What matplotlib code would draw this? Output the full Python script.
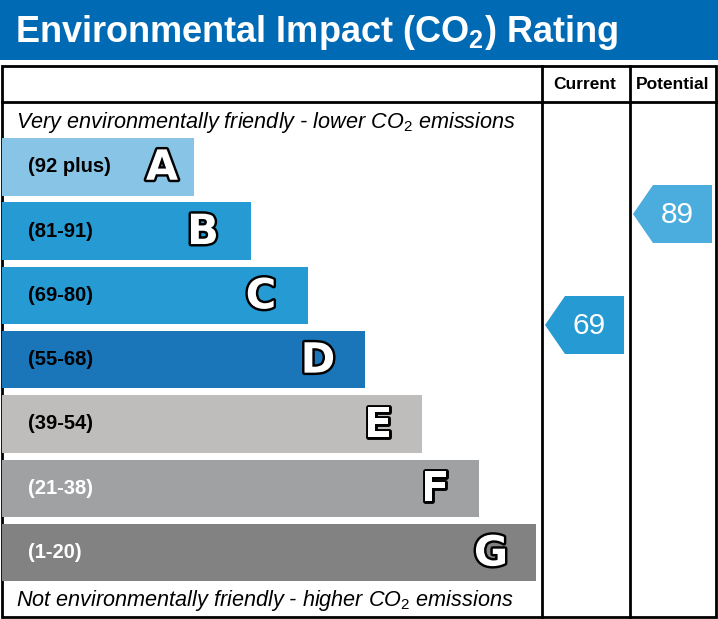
import matplotlib
matplotlib.use("Agg")
import matplotlib.pyplot as plt
from matplotlib.patches import Rectangle, Polygon
import matplotlib.patheffects as pe

plt.rcParams['font.family'] = ['Liberation Sans', 'DejaVu Sans']
plt.rcParams['mathtext.fontset'] = 'custom'
plt.rcParams['mathtext.rm'] = 'Liberation Sans'
plt.rcParams['mathtext.it'] = 'Liberation Sans:italic'
plt.rcParams['mathtext.bf'] = 'Liberation Sans:bold'

# data
bands = ['A', 'B', 'C', 'D', 'E', 'F', 'G']
ranges = ['(92 plus)', '(81-91)', '(69-80)', '(55-68)', '(39-54)', '(21-38)', '(1-20)']
band_colors = ['#87c4e6', '#269ad3', '#269ad3', '#1a75b9', '#bebdbb', '#a0a1a3', '#828282']
label_colors = ['black', 'black', 'black', 'black', 'black', 'white', 'white']
current = 69
potential = 89
current_color = '#269ad3'
potential_color = '#4badde'

W, H = 718, 619
fig = plt.figure(figsize=(W / 100, H / 100), dpi=100)
ax = fig.add_axes([0, 0, 1, 1])
ax.set_xlim(0, W)
ax.set_ylim(H, 0)
ax.axis('off')

# header band
ax.add_patch(Rectangle((0, 0), W, 60, color='#006ab4', lw=0))
ax.text(15, 41.5, r'Environmental Impact (CO$_\mathbf{2}$) Rating', color='white',
        fontsize=26, fontweight='bold', va='baseline', ha='left')

# table frame
lw = 2
ax.add_patch(Rectangle((2, 66), 714, 551, fill=False, ec='black', lw=lw))
ax.plot([2, 716], [101.5, 101.5], color='black', lw=lw)
ax.plot([542, 542], [66, 617], color='black', lw=lw)
ax.plot([630, 630], [66, 617], color='black', lw=lw)
ax.text(585, 89, 'Current', fontsize=12.5, fontweight='bold', ha='center', va='baseline')
ax.text(673, 89, 'Potential', fontsize=12.5, fontweight='bold', ha='center', va='baseline')

ax.text(16, 128, r'Very environmentally friendly - lower CO$_\mathit{2}$ emissions',
        fontsize=15.6, style='italic', ha='left', va='baseline')
ax.text(16, 606, r'Not environmentally friendly - higher CO$_\mathit{2}$ emissions',
        fontsize=15.6, style='italic', ha='left', va='baseline')

# bands
top0, step, bh = 138, 64.3, 57.5
letter_off = [32, 48, 47, 47, 44, 44, 45]
for i, (b, r) in enumerate(zip(bands, ranges)):
    y = top0 + i * step
    right = 194 + 57 * i
    ax.add_patch(Rectangle((2, y), right - 2, bh, color=band_colors[i], lw=0))
    ax.text(28, y + bh / 2, r, fontsize=14.5, fontweight='bold', color=label_colors[i],
            ha='left', va='center')
    ax.text(right - letter_off[i], y + bh / 2 + 1, b, fontsize=30, fontweight='heavy',
            color='white', family='DejaVu Sans', ha='center', va='center',
            path_effects=[pe.withStroke(linewidth=3.5, foreground='black')])


def score_y(v):
    return 214 + (89 - v) * 5.55


def arrow(x_tip, x_right, v, color):
    yc = score_y(v)
    h = 58
    pts = [(x_tip, yc), (x_tip + 20, yc - h / 2), (x_right, yc - h / 2),
           (x_right, yc + h / 2), (x_tip + 20, yc + h / 2)]
    ax.add_patch(Polygon(pts, closed=True, color=color, lw=0))
    ax.text((x_tip + 20 + x_right) / 2 - 5, yc + 1, str(v), color='white', fontsize=21.5,
            ha='center', va='center')


arrow(545, 624, current, current_color)
arrow(633, 712, potential, potential_color)

fig.savefig('out.png', dpi=100)
